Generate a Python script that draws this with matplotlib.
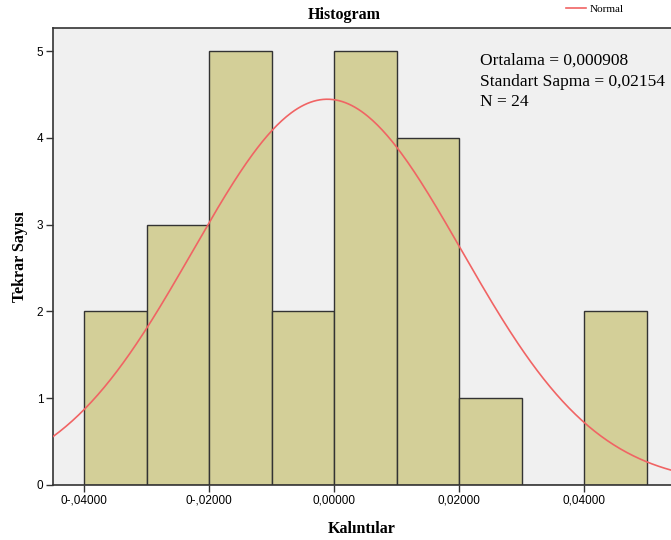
import matplotlib
matplotlib.use('Agg')
import matplotlib.pyplot as plt
import numpy as np

# Kalıntıların histogram verisi
bin_edges = [-0.04, -0.03, -0.02, -0.01, 0.00, 0.01, 0.02, 0.03, 0.04, 0.05]
counts = [2, 3, 5, 2, 5, 4, 1, 0, 2]
mean = 0.000908
std = 0.02154
n = 24
curve_center = -0.0011  # tepe noktası resimde 0'ın biraz solunda
xtick_vals = [-0.04, -0.02, 0.0, 0.02, 0.04]
xtick_labels = ['0-,04000', '0-,02000', '0,00000', '0,02000', '0,04000']

serif = 'Liberation Serif'
sans = 'Liberation Sans'

fig = plt.figure(figsize=(6.71, 5.4), dpi=100)
ax = fig.add_axes([0.079, 0.102, 0.921, 0.846])
ax.set_facecolor('#f0f0f0')

widths = np.diff(bin_edges)
ax.bar(bin_edges[:-1], counts, width=widths, align='edge',
       color='#d3cf98', edgecolor='#333333', linewidth=1.0, zorder=2)

# Normal eğrisi
xs = np.linspace(-0.046, 0.056, 400)
binw = widths[0]
ys = n * binw / (std * np.sqrt(2 * np.pi)) * np.exp(-0.5 * ((xs - curve_center) / std) ** 2)
ax.plot(xs, ys, color='#f06464', linewidth=1.2, zorder=3, label='Normal')

ax.set_xlim(-0.045, 0.0539)
ax.set_ylim(0, 5.265)
ax.set_xticks(xtick_vals)
ax.set_xticklabels(xtick_labels, fontfamily=sans, fontsize=8.5)
ax.set_yticks(range(6))
ax.set_yticklabels([str(i) for i in range(6)], fontfamily=sans, fontsize=8.5)
ax.tick_params(direction='out', length=5, width=1, color='#333333', pad=2)

for s in ['left', 'bottom', 'top']:
    ax.spines[s].set_color('#333333')
    ax.spines[s].set_linewidth(1.2)
ax.spines['right'].set_visible(False)

ax.set_xlabel('Kalıntılar', fontfamily=serif, fontweight='bold', fontsize=11.5, labelpad=10)
ax.set_ylabel('Tekrar Sayısı', fontfamily=serif, fontweight='bold', fontsize=11.5, labelpad=6)
fig.text(0.513, 0.972, 'Histogram', fontfamily=serif, fontweight='bold',
         fontsize=11.5, ha='center', va='center')

ax.text(0.0234, 4.98, 'Ortalama = 0,000908\nStandart Sapma = 0,02154\nN = 24',
        fontfamily=serif, fontsize=12.5, va='top', ha='left', linespacing=1.4, zorder=4)

leg = fig.legend(loc='upper right', bbox_to_anchor=(0.945, 1.01), frameon=False,
                 prop={'family': serif, 'size': 8}, handlelength=1.8, handletextpad=0.4)

fig.savefig('out.png', dpi=100)
